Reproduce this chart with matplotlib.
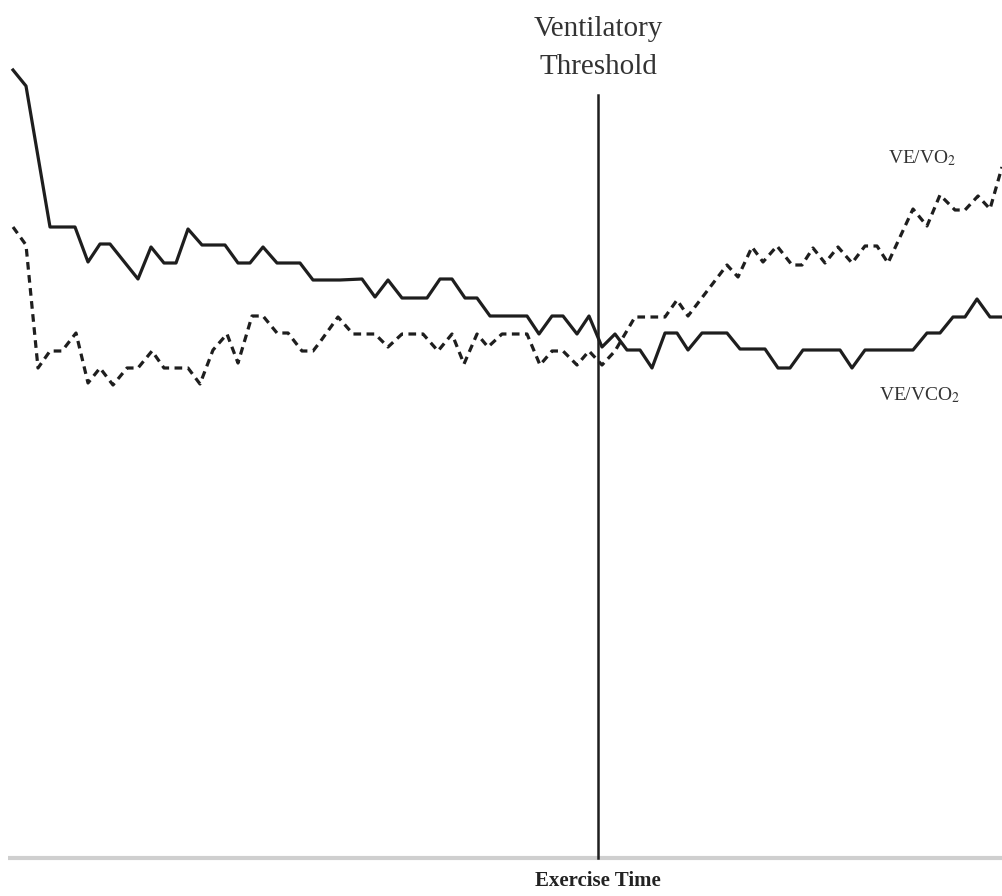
import matplotlib.pyplot as plt

# Datos (tiempo de ejercicio, nivel relativo)
# VE/VCO2 (linea continua)
t_vco2 = [13, 26, 50, 75, 88, 100, 110, 138, 151, 164, 176, 188, 202, 225, 238, 250, 263, 277,
          300, 313, 340, 362, 375, 388, 402, 427, 440, 452, 465, 477, 490, 527, 539, 552, 563,
          577, 589, 602, 615, 627, 640, 652, 665, 677, 688, 702, 727, 740, 765, 778, 790, 803,
          840, 852, 865, 913, 927, 940, 953, 965, 977, 990, 1002]
ve_vco2 = [826, 810, 669, 669, 634, 652, 652, 617, 649, 633, 633, 667, 651, 651, 633, 633, 649, 633,
           633, 616, 616, 617, 599, 616, 598, 598, 617, 617, 598, 598, 580, 580, 562, 580, 580,
           562, 580, 549, 562, 546, 546, 528, 563, 563, 546, 563, 563, 547, 547, 528, 528, 546,
           546, 528, 546, 546, 563, 563, 579, 579, 597, 579, 579]

# VE/VO2 (linea discontinua)
t_vo2 = [13, 26, 38, 50, 62, 76, 88, 100, 113, 127, 138, 152, 164, 188, 200, 213, 227, 238, 252,
         263, 277, 288, 302, 313, 320, 338, 353, 375, 388, 402, 423, 438, 452, 464, 477, 488, 502,
         527, 540, 552, 563, 577, 589, 602, 615, 635, 665, 677, 688, 727, 738, 752, 763, 777, 792,
         802, 813, 825, 838, 852, 865, 877, 888, 913, 927, 940, 955, 965, 978, 990, 1002]
ve_vo2 = [669, 651, 528, 545, 545, 563, 513, 528, 511, 528, 528, 545, 528, 528, 512, 546, 562, 533,
          580, 580, 563, 563, 545, 545, 554, 579, 562, 562, 549, 562, 562, 545, 562, 532, 562, 549,
          562, 562, 531, 545, 545, 531, 545, 531, 545, 579, 579, 596, 580, 631, 619, 649, 634, 650,
          631, 631, 648, 633, 649, 633, 650, 650, 633, 687, 670, 701, 686, 686, 700, 687, 729]

umbral = 598

plt.rcParams['font.family'] = ['Liberation Serif', 'DejaVu Serif']
plt.rcParams['mathtext.fontset'] = 'stix'

fig = plt.figure(figsize=(10.02, 8.96), dpi=100)
ax = fig.add_axes([0, 0, 1, 1])
ax.set_xlim(0, 1002)
ax.set_ylim(0, 896)
ax.axis("off")

# eje del tiempo y umbral ventilatorio
ax.plot([8, 1002], [38, 38], color="#cfcfcf", lw=3, solid_capstyle="butt")
ax.plot([umbral, umbral], [38, 801], color="#1e1e1e", lw=1.8)

ax.plot(t_vco2, ve_vco2, color="#1e1e1e", lw=2.3)
ax.plot(t_vo2, ve_vo2, color="#1e1e1e", lw=2.3, linestyle=(0, (2.4, 1.7)))

ax.text(umbral, 848, "Ventilatory\nThreshold", ha="center", va="center",
        fontsize=21, color="#333333", linespacing=1.6)
ax.text(umbral, 15, "Exercise Time", ha="center", va="center",
        fontsize=15, fontweight="bold", color="#222222")
ax.text(922, 738, "VE/VO$_2$", ha="center", va="center", fontsize=14, color="#333333")
ax.text(920, 501, "VE/VCO$_2$", ha="center", va="center", fontsize=14, color="#333333")

fig.savefig("out.png", dpi=100)
